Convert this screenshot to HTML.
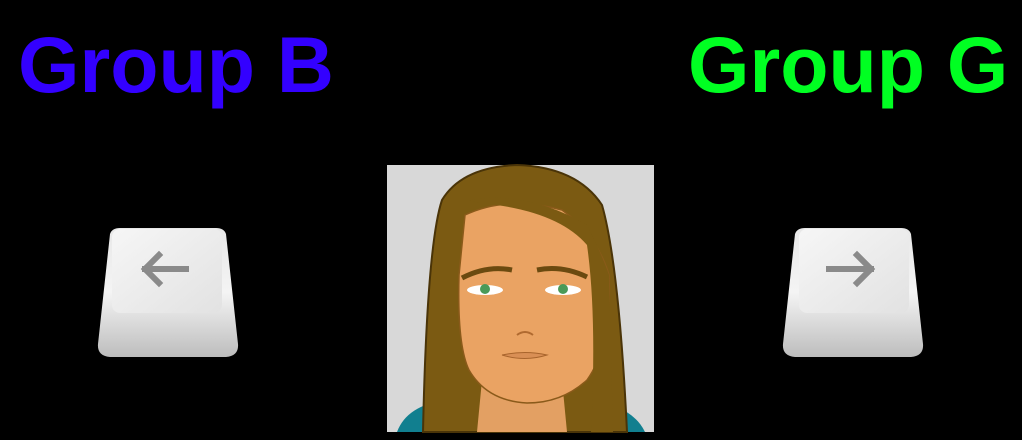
<!DOCTYPE html>
<html><head><meta charset="utf-8"><style>
html,body{margin:0;padding:0;background:#000;width:1022px;height:440px;overflow:hidden;position:relative}
.t{position:absolute;font-family:"Liberation Sans",sans-serif;font-weight:bold;font-size:79px;line-height:1;white-space:nowrap}
</style></head><body>
<div class="t" style="left:18px;top:25px;color:#3300ff">Group B</div>
<div class="t" style="left:688px;top:25px;color:#00ff22">Group G</div>

<svg width="1022" height="440" style="position:absolute;left:0;top:0">
<defs>
<linearGradient id="kb" x1="0" y1="0" x2="0" y2="1"><stop offset="0" stop-color="#e8e8e8"/><stop offset="0.5" stop-color="#f4f4f4"/><stop offset="1" stop-color="#bdbdbd"/></linearGradient>
<linearGradient id="kt" x1="0" y1="0" x2="1" y2="1"><stop offset="0" stop-color="#f6f6f6"/><stop offset="1" stop-color="#e2e2e2"/></linearGradient>
</defs>
<g transform="translate(98,226)">
<path d="M12 8 Q14 2 22 2 L118 2 Q126 2 128 8 L140 118 Q141 130 128 131 L12 131 Q-1 130 0 118 Z" fill="url(#kb)"/>
<rect x="14" y="3" width="110" height="84" rx="8" fill="url(#kt)"/>
<path d="M47 43 H88 M47 43 L61 29 M47 43 L61 57" stroke="#8a8a8a" stroke-width="6" fill="none" stroke-linecap="square"/>
</g>
<g transform="translate(783,226)">
<path d="M12 8 Q14 2 22 2 L118 2 Q126 2 128 8 L140 118 Q141 130 128 131 L12 131 Q-1 130 0 118 Z" fill="url(#kb)"/>
<rect x="16" y="3" width="110" height="84" rx="8" fill="url(#kt)"/>
<path d="M88 43 H46 M88 43 L74 29 M88 43 L74 57" stroke="#8a8a8a" stroke-width="6" fill="none" stroke-linecap="square"/>
</g>
<g transform="translate(387,165)">
<rect width="267" height="267" fill="#d8d8d8"/>
<path d="M10 267 Q20 240 60 235 L200 235 Q245 240 258 267 Z" fill="#117f8f"/>
<path d="M36 267 Q40 80 55 35 Q75 2 130 0 Q190 2 215 40 Q232 100 240 267 Z" fill="#7b5a12" stroke="#4a3408" stroke-width="2"/>
<path d="M90 267 L95 215 L175 215 L180 267 Z" fill="#e3a063"/>
<path d="M78 50 Q120 30 175 45 Q210 70 222 110 Q225 180 200 215 Q175 238 140 238 Q100 236 82 205 Q70 180 72 110 Z" fill="#eaa363" stroke="#8a5a1a" stroke-width="1.5"/>
<path d="M82 35 Q140 25 200 60 Q215 90 222 110 L226 267 L204 267 Q210 150 200 80 Q170 45 92 38 Z" fill="#7b5a12"/>
<path d="M75 113 Q100 100 125 105 M150 105 Q175 100 200 112" stroke="#6b4a10" stroke-width="5" fill="none"/>
<ellipse cx="98" cy="125" rx="18" ry="5" fill="#fff"/><circle cx="98" cy="124" r="5" fill="#4a9a58"/>
<ellipse cx="176" cy="125" rx="18" ry="5" fill="#fff"/><circle cx="176" cy="124" r="5" fill="#4a9a58"/>
<path d="M130 170 Q138 164 146 170" stroke="#b06a30" stroke-width="2" fill="none"/>
<path d="M115 190 Q138 185 160 190 Q138 197 115 190" fill="#d98f55" stroke="#a8642c" stroke-width="1"/>
</g>
</svg>
</body></html>
